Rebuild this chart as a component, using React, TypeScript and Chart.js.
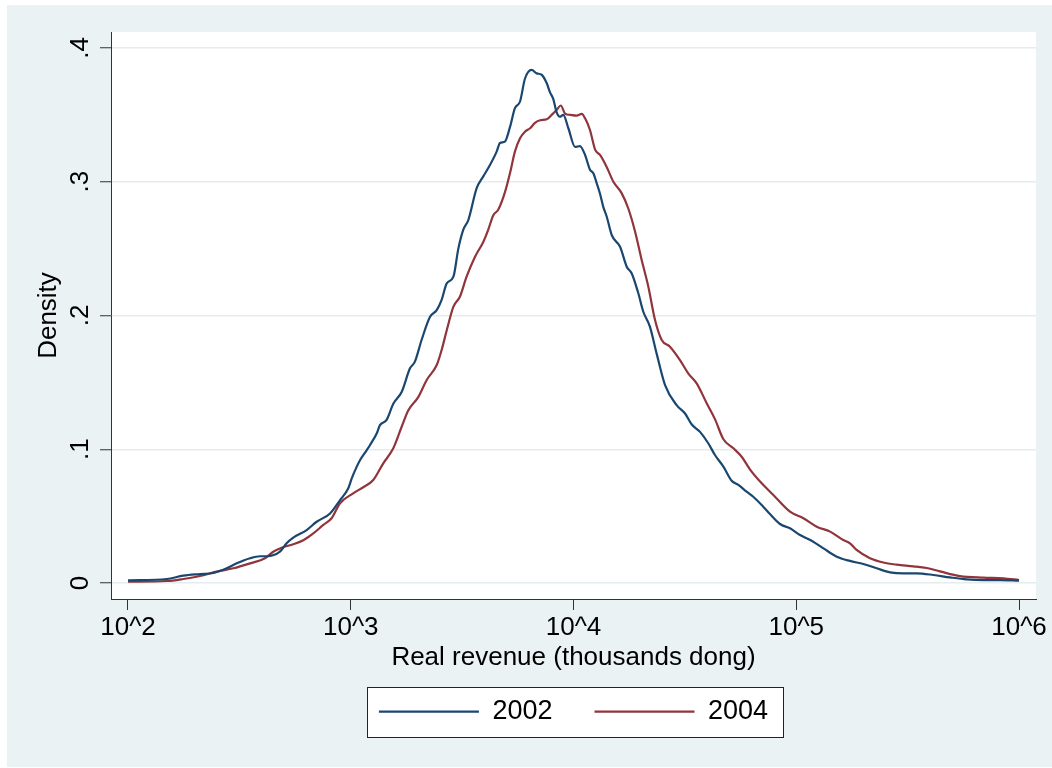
import { useEffect, useRef } from "react";
import { Chart, registerables } from "chart.js";

Chart.register(...registerables);

// log10 of real revenue (thousands dong) and kernel density, 2002
const logRevenue2002 = [
  2.0, 2.174, 2.248, 2.323, 2.383, 2.443, 2.488, 2.548, 2.593, 2.623,
  2.682, 2.712, 2.742, 2.802, 2.847, 2.907, 2.952, 2.989, 3.004, 3.027,
  3.042, 3.072, 3.086, 3.117, 3.131, 3.161, 3.191, 3.229, 3.266, 3.288,
  3.318, 3.356, 3.386, 3.408, 3.431, 3.461, 3.483, 3.505, 3.528, 3.565,
  3.595, 3.625, 3.655, 3.67, 3.692, 3.715, 3.737, 3.76, 3.782, 3.812,
  3.835, 3.857, 3.88, 3.894, 3.909, 3.924, 3.939, 3.954, 3.977, 4.007,
  4.029, 4.052, 4.074, 4.089, 4.104, 4.119, 4.134, 4.149, 4.172, 4.209,
  4.239, 4.261, 4.291, 4.313, 4.343, 4.373, 4.411, 4.463, 4.5, 4.531,
  4.568, 4.605, 4.635, 4.673, 4.71, 4.74, 4.777, 4.807, 4.845, 4.882,
  4.927, 4.972, 5.017, 5.069, 5.122, 5.182, 5.241, 5.301, 5.361, 5.421,
  5.481, 5.541, 5.616, 5.69, 5.765, 5.84, 5.915, 6.0,
];
const density2002 = [
  0.002, 0.003, 0.0055, 0.0067, 0.0075, 0.011, 0.0147, 0.0185, 0.02, 0.02,
  0.0234, 0.0297, 0.0339, 0.0396, 0.0458, 0.052, 0.062, 0.0708, 0.078, 0.087,
  0.092, 0.0994, 0.103, 0.112, 0.118, 0.122, 0.134, 0.143, 0.1605, 0.1655,
  0.1817, 0.199, 0.204, 0.2116, 0.224, 0.229, 0.25, 0.264, 0.2714, 0.295,
  0.304, 0.3125, 0.3225, 0.329, 0.33, 0.341, 0.355, 0.36, 0.377, 0.3836,
  0.381, 0.38, 0.3736, 0.367, 0.362, 0.352, 0.3486, 0.35, 0.34, 0.326,
  0.3267, 0.32, 0.309, 0.3063, 0.299, 0.291, 0.281, 0.274, 0.26, 0.2514,
  0.2365, 0.2316, 0.2166, 0.203, 0.1917, 0.1717, 0.148, 0.133, 0.1269, 0.1185,
  0.113, 0.1045, 0.0957, 0.087, 0.0765, 0.0733, 0.0683, 0.0645, 0.0583, 0.0516,
  0.0441, 0.0409, 0.0359, 0.0316, 0.0259, 0.0197, 0.0165, 0.0142, 0.011, 0.008,
  0.0072, 0.0072, 0.006, 0.0042, 0.0027, 0.0022, 0.0022, 0.0017,
];

// log10 of real revenue (thousands dong) and kernel density, 2004
const logRevenue2004 = [
  2.0, 2.174, 2.248, 2.323, 2.398, 2.473, 2.548, 2.615, 2.652, 2.69,
  2.742, 2.787, 2.832, 2.877, 2.914, 2.952, 3.011, 3.056, 3.101, 3.146,
  3.191, 3.229, 3.258, 3.303, 3.341, 3.386, 3.408, 3.431, 3.461, 3.49,
  3.52, 3.558, 3.595, 3.617, 3.64, 3.662, 3.692, 3.715, 3.737, 3.76,
  3.782, 3.805, 3.827, 3.85, 3.88, 3.902, 3.924, 3.943, 3.962, 3.985,
  4.014, 4.037, 4.052, 4.074, 4.097, 4.119, 4.149, 4.179, 4.216, 4.246,
  4.276, 4.306, 4.336, 4.366, 4.396, 4.433, 4.478, 4.515, 4.553, 4.598,
  4.635, 4.673, 4.718, 4.755, 4.792, 4.845, 4.897, 4.972, 5.032, 5.092,
  5.152, 5.211, 5.241, 5.271, 5.331, 5.391, 5.451, 5.526, 5.586, 5.645,
  5.735, 5.84, 5.93, 6.0,
];
const density2004 = [
  0.001, 0.0015, 0.003, 0.0052, 0.0085, 0.011, 0.0147, 0.0185, 0.0234, 0.0264,
  0.029, 0.032, 0.0371, 0.0434, 0.0484, 0.0596, 0.067, 0.0716, 0.077, 0.0895,
  0.1007, 0.117, 0.129, 0.139, 0.1518, 0.163, 0.1742, 0.189, 0.2066, 0.214,
  0.229, 0.244, 0.255, 0.264, 0.275, 0.279, 0.292, 0.3065, 0.3225, 0.3325,
  0.3374, 0.34, 0.344, 0.346, 0.3467, 0.35, 0.3536, 0.357, 0.351, 0.35,
  0.3494, 0.3507, 0.3474, 0.3387, 0.324, 0.32, 0.311, 0.3, 0.2915, 0.28,
  0.263, 0.2415, 0.2215, 0.1966, 0.1817, 0.1767, 0.1667, 0.1568, 0.1493, 0.1344,
  0.1225, 0.1075, 0.1007, 0.0944, 0.085, 0.0745, 0.0658, 0.0533, 0.0484, 0.0421,
  0.0384, 0.0321, 0.0297, 0.0247, 0.0185, 0.0153, 0.0137, 0.0125, 0.0112, 0.0087,
  0.0052, 0.004, 0.0035, 0.0022,
];

const seriesLabels = ["2002", "2004"];
const xTickValues = [2, 3, 4, 5, 6];
const xTickLabels = ["10^2", "10^3", "10^4", "10^5", "10^6"];
const yTickValues = [0, 0.1, 0.2, 0.3, 0.4];
const yTickLabels = ["0", ".1", ".2", ".3", ".4"];

const FONT = "'Liberation Sans', Arial, Helvetica, sans-serif";
const NAVY = "#1a476f";
const MAROON = "#90353b";
const OUTER_BG = "#eaf2f3";
const AXIS = "#333333";
const LEGEND_FONT = 27;

const backgroundPlugin = {
  id: "stataBackground",
  beforeDraw(chart: any) {
    const { ctx, chartArea, width, height } = chart;
    ctx.save();
    ctx.fillStyle = "#ffffff";
    ctx.fillRect(0, 0, width, height);
    ctx.fillStyle = OUTER_BG;
    ctx.fillRect(7, 5, width - 7, height - 6);
    ctx.fillStyle = "#ffffff";
    ctx.fillRect(
      chartArea.left,
      chartArea.top,
      chartArea.right - chartArea.left,
      chartArea.bottom - chartArea.top
    );
    const lg = chart.legend;
    if (lg && lg.legendHitBoxes && lg.legendHitBoxes.length) {
      const hb = lg.legendHitBoxes;
      const first = hb[0];
      const last = hb[hb.length - 1];
      const cy = first.top + LEGEND_FONT / 2;
      const x0 = Math.round(first.left - 12);
      const x1 = Math.round(last.left + last.width + 15);
      const y0 = Math.round(cy - 25);
      ctx.fillStyle = "#ffffff";
      ctx.fillRect(x0, y0, x1 - x0, 50);
      ctx.strokeStyle = "#222222";
      ctx.lineWidth = 1;
      ctx.strokeRect(x0 + 0.5, y0 + 0.5, x1 - x0, 50);
    }
    ctx.restore();
  },
};

export default function App() {
  const ref = useRef<HTMLCanvasElement | null>(null);

  useEffect(() => {
    if (!ref.current) return;
    const chart = new Chart(ref.current, {
      type: "line",
      data: {
        datasets: [
          {
            label: seriesLabels[0],
            data: logRevenue2002.map((x, i) => ({ x, y: density2002[i] })),
            borderColor: NAVY,
            backgroundColor: NAVY,
            borderWidth: 2.2,
            pointRadius: 0,
            cubicInterpolationMode: "monotone",
            fill: false,
          },
          {
            label: seriesLabels[1],
            data: logRevenue2004.map((x, i) => ({ x, y: density2004[i] })),
            borderColor: MAROON,
            backgroundColor: MAROON,
            borderWidth: 2.2,
            pointRadius: 0,
            cubicInterpolationMode: "monotone",
            fill: false,
          },
        ],
      },
      options: {
        animation: false,
        responsive: false,
        maintainAspectRatio: false,
        layout: { padding: { left: 0, right: 16, top: 32, bottom: 32.8 } },
        plugins: {
          legend: {
            position: "bottom",
            fullSize: false,
            labels: {
              usePointStyle: true,
              pointStyle: "line",
              pointStyleWidth: 100,
              padding: 42,
              color: "#000000",
              font: { family: FONT, size: LEGEND_FONT },
            },
          },
          tooltip: { enabled: false },
        },
        scales: {
          x: {
            type: "linear",
            min: 1.9237,
            max: 6.0763,
            afterBuildTicks: (s: any) => {
              s.ticks = xTickValues.map((v) => ({ value: v }));
            },
            afterFit: (s: any) => {
              s.height = 57.2;
              s.paddingLeft = 0;
              s.paddingRight = 0;
            },
            ticks: {
              autoSkip: false,
              maxRotation: 0,
              padding: 2.4,
              color: "#000000",
              font: { family: FONT, size: 26 },
              callback: (_v: any, i: number) => xTickLabels[i],
            },
            grid: {
              drawOnChartArea: false,
              drawTicks: true,
              tickLength: 11,
              tickColor: AXIS,
              tickWidth: 1,
            },
            border: { display: true, color: AXIS, width: 1 },
            title: {
              display: true,
              text: "Real revenue (thousands dong)",
              color: "#000000",
              font: { family: FONT, size: 26 },
              padding: { top: 0, bottom: -17.1 },
            },
          },
          y: {
            type: "linear",
            min: -0.01196,
            max: 0.41196,
            afterBuildTicks: (s: any) => {
              s.ticks = yTickValues.map((v) => ({ value: v }));
            },
            afterFit: (s: any) => {
              s.width = 111;
            },
            ticks: {
              minRotation: 90,
              maxRotation: 90,
              crossAlign: "center",
              padding: 8,
              color: "#000000",
              font: { family: FONT, size: 26 },
              callback: (_v: any, i: number) => yTickLabels[i],
            },
            grid: {
              color: "#e3ecee",
              lineWidth: 1.5,
              drawTicks: true,
              tickLength: 11,
              tickColor: AXIS,
              tickWidth: 1,
            },
            border: { display: true, color: AXIS, width: 1 },
            title: {
              display: true,
              text: "Density",
              color: "#000000",
              font: { family: FONT, size: 26 },
              padding: { top: 33.7, bottom: 0 },
            },
          },
        },
      } as any,
      plugins: [backgroundPlugin],
    });
    return () => chart.destroy();
  }, []);

  return (
    <div style={{ position: "fixed", left: 0, top: 0, width: 1052, height: 768 }}>
      <canvas
        ref={ref}
        width={1052}
        height={768}
        style={{ display: "block", width: 1052, height: 768 }}
      />
    </div>
  );
}
